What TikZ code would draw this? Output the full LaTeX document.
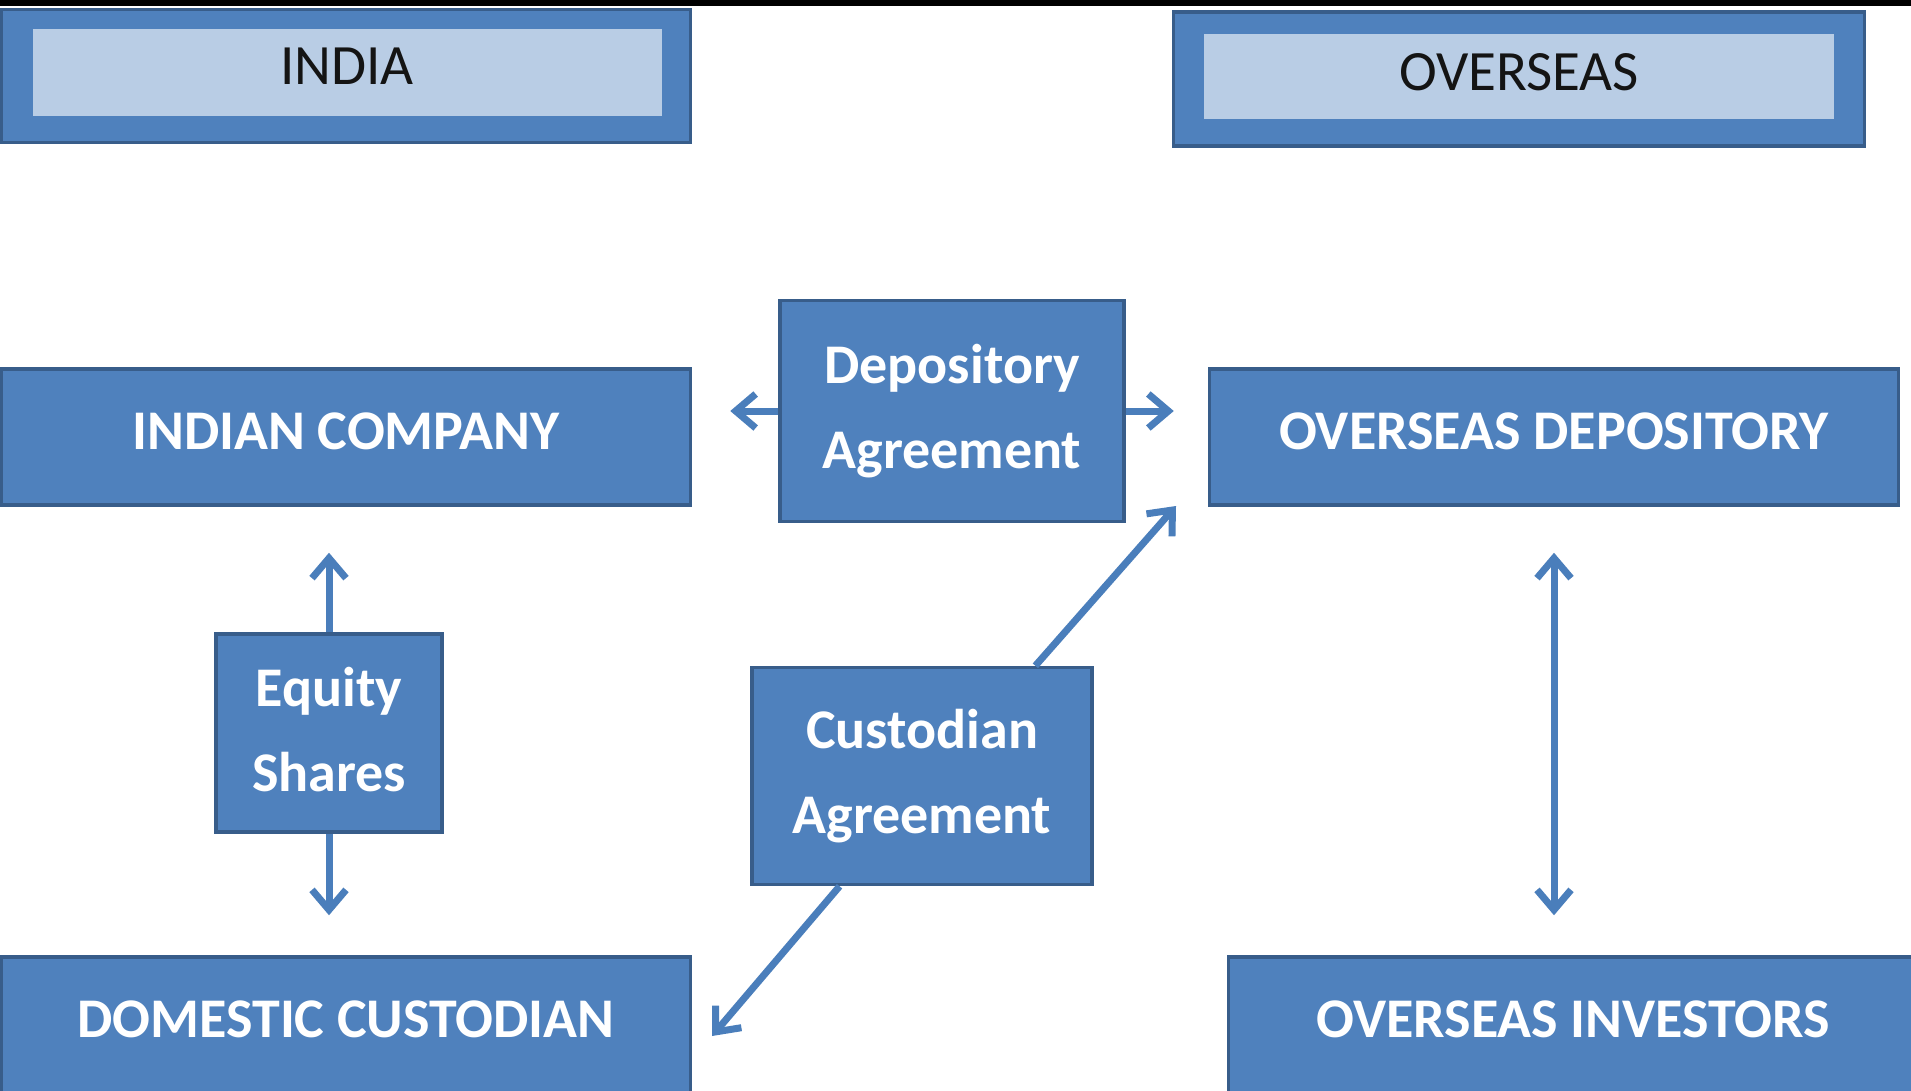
\documentclass[tikz,border=0pt]{standalone}
\usepackage{fontspec}
\setmainfont{Carlito}
\usetikzlibrary{arrows.meta,calc}
\definecolor{boxblue}{HTML}{4F81BD}
\definecolor{boxedge}{HTML}{385D8A}
\definecolor{paleblue}{HTML}{B9CDE5}
\definecolor{linkblue}{HTML}{4A7EBB}
\begin{document}
\begin{tikzpicture}[x=1pt,y=-1pt,
  block/.style={draw=boxedge, line width=3.5pt, fill=boxblue, text=white,
    inner sep=0pt, align=center, font=\fontsize{56}{85}\selectfont\bfseries},
  oneline/.style={text depth=12pt},
  region/.style={draw=boxedge, line width=3.5pt, fill=boxblue, inner sep=0pt},
  band/.style={fill=paleblue, inner sep=0pt, text=black!92,
    font=\fontsize{57}{60}\selectfont},
  link/.style={draw=linkblue, line width=7pt, -{Straight Barb[length=20pt,width=34pt]}},
  twoway/.style={link, {Straight Barb[length=20pt,width=34pt]}-{Straight Barb[length=20pt,width=34pt]}}
]
\clip (0,0) rectangle (1911,1090);
\useasboundingbox (0,0) rectangle (1911,1090);
\fill[white] (0,0) rectangle (1911,1090);
\fill[black] (0,0) rectangle (1911,6);

% region headers
\node[region, minimum width=689pt, minimum height=133pt] (indiaframe) at (346,76) {};
\node[band, minimum width=629pt, minimum height=87pt, text depth=12pt] (india) at (347,72) {INDIA};
\node[region, minimum width=691pt, minimum height=134pt] (overframe) at (1519,79) {};
\node[band, minimum width=630pt, minimum height=85pt, text depth=8pt] (overseas) at (1519,76) {OVERSEAS};

% parties
\node[block, oneline, minimum width=689pt, minimum height=136pt] (company) at (346,437) {INDIAN COMPANY};
\node[block, oneline, minimum width=689pt, minimum height=136pt] (ovdep) at (1554,437) {OVERSEAS DEPOSITORY};
\node[block, oneline, minimum width=689pt, minimum height=136pt] (domcust) at (346,1025) {DOMESTIC CUSTODIAN};
\node[block, oneline, minimum width=689pt, minimum height=136pt] (ovinv) at (1573,1025) {OVERSEAS INVESTORS};

% instruments
\node[block, minimum width=344pt, minimum height=221pt] (depagr) at (952,411) {Depository\\Agreement\rule[-8pt]{0pt}{0pt}};
\node[block, minimum width=226pt, minimum height=198pt] (equity) at (329,733) {Equity\\Shares\rule[-8pt]{0pt}{0pt}};
\node[block, minimum width=340pt, minimum height=217pt] (cust) at (922,776) {Custodian\\Agreement\rule[-8pt]{0pt}{0pt}};

% links
\draw[link, shorten >=38pt] (depagr.west) -- (depagr.west -| company.east);
\draw[link, shorten >=34pt] (depagr.east) -- (depagr.east -| ovdep.west);
\draw[link, shorten >=46pt] (equity.north) -- (equity.north |- company.south);
\draw[link, shorten >=40pt] (equity.south) -- (equity.south |- domcust.north);
\draw[twoway, shorten <=46pt, shorten >=40pt] (ovdep.south) -- (ovdep.south |- ovinv.north);
\coordinate (custup) at (1176,506);
\coordinate (custdown) at (712,1036);
\draw[link] ($(cust.north west)!0.83!(cust.north east)$) -- (custup);
\draw[link] ($(cust.south west)!0.26!(cust.south east)$) -- (custdown);
\end{tikzpicture}
\end{document}
